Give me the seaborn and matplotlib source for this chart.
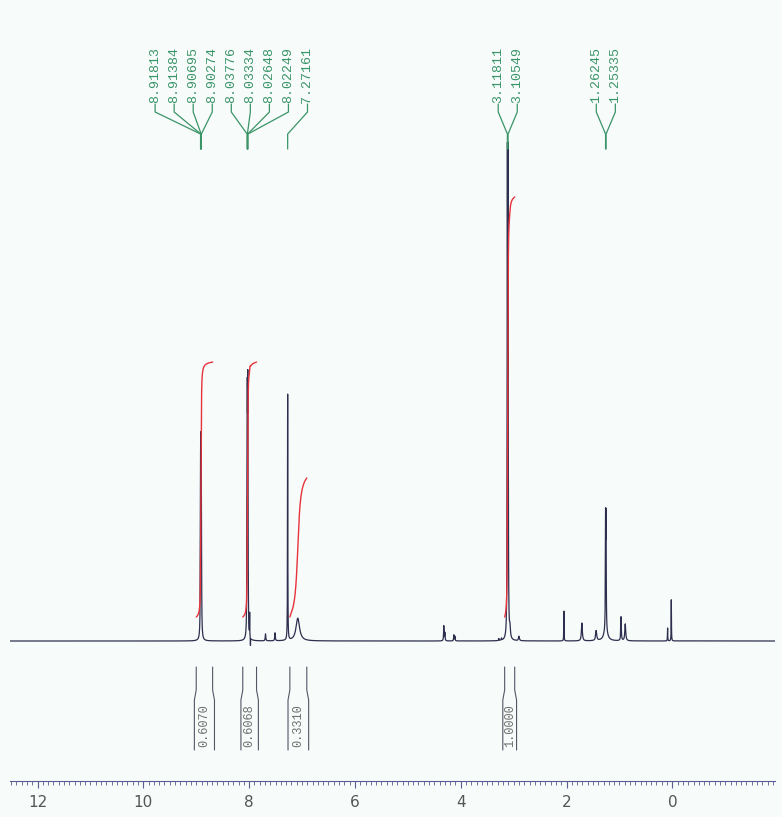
import numpy as np
import pandas as pd
import matplotlib
matplotlib.use("Agg")
import matplotlib.pyplot as plt
import matplotlib.transforms as mtransforms
from matplotlib.ticker import MultipleLocator
import seaborn as sns

# ---------------- data ----------------
peak_ppm = [8.91813, 8.91384, 8.90695, 8.90274,
            8.03776, 8.03334, 8.02648, 8.02249, 7.99, 7.975,
            7.27161, 7.08, 7.69, 7.51,
            4.32, 4.30, 4.13, 4.11,
            3.28, 3.23, 3.11811, 3.10549, 3.07, 2.90,
            2.05, 1.71, 1.44, 1.26245, 1.25335, 1.26,
            0.97, 0.89, 0.09, 0.02]
peak_height = [22.8, 22.8, 22.8, 22.8,
               29.0, 29.0, 29.0, 29.0, 4.6, -1.6,
               49.6, 4.6, 1.4, 1.6,
               3.0, 1.6, 1.2, 0.9,
               0.4, 0.4, 92.0, 92.0, 2.0, 0.9,
               6.0, 3.6, 2.0, 21.3, 21.3, 2.0,
               4.8, 3.4, 2.6, 8.3]
peak_hwhm = [0.004, 0.004, 0.004, 0.004,
             0.004, 0.004, 0.004, 0.004, 0.002, 0.002,
             0.003, 0.04, 0.006, 0.006,
             0.005, 0.005, 0.005, 0.005,
             0.004, 0.004, 0.004, 0.004, 0.01, 0.01,
             0.003, 0.01, 0.012, 0.004, 0.004, 0.04,
             0.006, 0.01, 0.003, 0.003]

label_groups = [
    ["8.91813", "8.91384", "8.90695", "8.90274",
     "8.03776", "8.03334", "8.02648", "8.02249", "7.27161"],
    ["3.11811", "3.10549"],
    ["1.26245", "1.25335"],
]

int_start = [9.00, 8.12, 7.23, 3.17]
int_end = [8.69, 7.86, 6.91, 2.98]
int_value = [0.6070, 0.6068, 0.3310, 1.0000]

x_ticks = [12, 10, 8, 6, 4, 2, 0]
x_limits = (12.52, -1.94)

# ---------------- build spectrum ----------------
ppm = np.linspace(x_limits[1], x_limits[0], 80000)
spec = np.zeros_like(ppm)
for c, h, g in zip(peak_ppm, peak_height, peak_hwhm):
    spec += h / (1.0 + ((ppm - c) / g) ** 2)
df = pd.DataFrame({"ppm": ppm, "intensity": spec})

# ---------------- figure ----------------
W, H = 782, 817
sns.set_style("white")
plt.rcParams["font.family"] = ["DejaVu Sans"]
bg = "#f7fbfa"
fig = plt.figure(figsize=(W / 100, H / 100), dpi=100, facecolor=bg)
ax_top_px, ax_bot_px = 0, 781
ax = fig.add_axes([10 / W, (H - ax_bot_px) / H, 765 / W, (ax_bot_px - ax_top_px) / H])
ax.set_facecolor(bg)

px_per_unit = 4.96
base_px = 641
ax.set_ylim(-(ax_bot_px - base_px) / px_per_unit, (base_px - ax_top_px) / px_per_unit)
ax.set_xlim(*x_limits)

sns.lineplot(data=df, x="ppm", y="intensity", ax=ax, color="#2e2e4e",
             linewidth=0.9, estimator=None, sort=False)

def fy(px):
    return 1 - px / H

blend = mtransforms.blended_transform_factory(ax.transData, fig.transFigure)

# ---------------- integrals ----------------
int_offset = 24 / px_per_unit
int_scale = 420 / px_per_unit
red = "#e8323c"
gray_txt = "#6f6f6f"
for s, e, v in zip(int_start, int_end, int_value):
    m = (ppm <= s) & (ppm >= e)
    xs = ppm[m][::-1]
    ys = spec[m][::-1]
    cum = np.cumsum(ys)
    cum = cum - cum[0]
    curve = int_offset + v * int_scale * cum / cum[-1]
    ax.plot(xs, curve, color=red, lw=1.0)
    # bracket lines (flare outward around the value)
    d = 0.035
    for xb, sgn in ((s, 1), (e, -1)):
        ax.plot([xb, xb, xb + sgn * d, xb + sgn * d],
                [fy(667), fy(690), fy(700), fy(750)],
                transform=blend, color="#555566", lw=0.8, clip_on=False)
    ax.text((s + e) / 2, fy(747), f"{v:.4f}", transform=blend, rotation=90,
            rotation_mode="anchor", ha="left", va="center",
            family=["Liberation Mono", "DejaVu Sans Mono"], fontsize=8.6,
            color=gray_txt)

# ---------------- peak labels ----------------
green = "#3a9468"
spacing = 0.36
for grp in label_groups:
    vals = [float(t) for t in grp]
    ctr = np.mean(vals)
    n = len(grp)
    for i, t in enumerate(grp):
        lx = ctr + (n - 1) / 2 * spacing - i * spacing
        px = float(t)
        ax.plot([lx, lx, px, px], [fy(104), fy(112), fy(134), fy(149)],
                transform=blend, color=green, lw=0.9, clip_on=False)
        ax.text(lx, fy(103), t, transform=blend, rotation=90,
                rotation_mode="anchor", ha="left", va="center",
                family=["Liberation Mono", "DejaVu Sans Mono"], fontsize=9.5,
                color=green)

# ---------------- axis ----------------
for sp in ["top", "left", "right"]:
    ax.spines[sp].set_visible(False)
tick_col = "#5c5c94"
ax.spines["bottom"].set_color(tick_col)
ax.spines["bottom"].set_linewidth(0.8)
ax.set_xticks(x_ticks)
ax.set_xticklabels([str(t) for t in x_ticks],
                   family=["Liberation Sans Narrow", "DejaVu Sans"])
ax.xaxis.set_minor_locator(MultipleLocator(0.1))
ax.tick_params(axis="x", which="both", bottom=True, top=False)
ax.tick_params(axis="x", which="major", direction="out", length=5.2, width=0.8,
               color=tick_col, pad=5, labelsize=11, labelcolor="#555555")
ax.tick_params(axis="x", which="minor", direction="out", length=3.0, width=0.6,
               color=tick_col)
ax.set_yticks([])
ax.set_xlabel("")
ax.set_ylabel("")

fig.savefig("out.png", dpi=100, facecolor=bg)
